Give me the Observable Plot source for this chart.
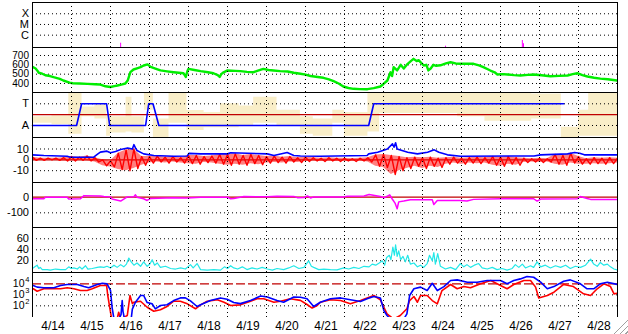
<!DOCTYPE html>
<html><head><meta charset="utf-8">
<script src="https://cdn.jsdelivr.net/npm/d3@7"></script>
<script src="https://cdn.jsdelivr.net/npm/@observablehq/plot@0.6"></script>
<style>
body{margin:0;background:#fff;}
#chart{position:relative;width:628px;height:334px;background:#fff;overflow:hidden;}
#chart > div.p{position:absolute;left:0;}
#grip{position:absolute;right:0;bottom:0;width:15px;height:15px;background:repeating-linear-gradient(135deg,transparent 0 3px,#a0a0a0 3px 4px);clip-path:polygon(100% 0,100% 100%,0 100%);}
</style></head><body><div id="chart"><div id="grip"></div></div>
<script>
// ---------- data ----------
const dayLabels = ["4/14","4/15","4/16","4/17","4/18","4/19","4/20","4/21","4/22","4/23","4/24","4/25","4/26","4/27","4/28"];
const dayBounds = [1,2,3,4,5,6,7,8,9,10,11,12,13,14];

// panel 1: flare class levels and events
const classLevels = [1,2,3];
const classLabels = ["C","M","X"];
const events = [[2.26,0.25],[10.59,-0.03],[12.56,0.5],[12.59,0.2]];

// panel 2: solar wind speed
const speedTicks = [400,500,600,700];
const speed = [[0,578],[0.08,560],[0.12,540],[0.16,515],[0.25,505],[0.33,488],[0.45,480],[0.54,468],[0.7,450],[0.79,432],[0.95,410],[1.03,403],[1.2,400],[1.41,396],[1.6,392],[1.74,389],[1.87,370],[2.0,362],[2.1,372],[2.18,379],[2.3,390],[2.38,400],[2.44,432],[2.51,521],[2.59,550],[2.7,565],[2.77,575],[2.85,593],[2.95,605],[3.03,578],[3.15,560],[3.28,540],[3.45,530],[3.62,521],[3.75,515],[3.87,510],[3.93,470],[3.97,530],[4.0,557],[4.15,545],[4.31,532],[4.5,520],[4.64,510],[4.75,490],[4.8,470],[4.84,500],[4.9,520],[5.0,540],[5.2,535],[5.33,532],[5.5,525],[5.67,521],[5.8,540],[5.92,557],[6.05,545],[6.18,539],[6.35,532],[6.54,528],[6.7,515],[6.87,504],[7.0,495],[7.13,480],[7.36,467],[7.46,461],[7.6,445],[7.72,425],[7.85,400],[7.97,368],[8.1,352],[8.23,343],[8.4,340],[8.59,339],[8.75,350],[8.92,368],[9.0,395],[9.1,432],[9.18,520],[9.22,480],[9.26,575],[9.35,540],[9.44,600],[9.52,560],[9.62,611],[9.7,640],[9.77,664],[9.85,640],[9.9,650],[10.03,593],[10.1,600],[10.15,540],[10.21,560],[10.28,600],[10.35,590],[10.46,595],[10.6,615],[10.72,628],[10.85,615],[10.97,611],[11.15,612],[11.31,611],[11.45,595],[11.56,575],[11.74,539],[11.85,520],[11.92,496],[12.05,500],[12.18,496],[12.35,490],[12.51,486],[12.7,492],[12.85,496],[13.05,488],[13.28,478],[13.5,482],[13.72,486],[13.85,500],[13.97,510],[14.1,490],[14.23,475],[14.4,462],[14.56,452],[14.75,445],[15.0,432]];

// panel 3: IMF sector (A=0, T=1) and field angle scatter envelope
const sectorTicks = [0,1];
const sectorLabels = ["A","T"];
const sectorBoundary = 0.5;
const sector = [[0,0],[1.13,0],[1.26,1],[1.9,1],[1.98,0],[2.9,0],[2.98,1],[3.09,1],[3.24,0],[8.62,0],[8.75,1],[13.62,1]];
const phiBand = [[0,0.1,0.4],[0.5,0.05,0.45],[0.93,-0.4,1.5],[1.27,0.4,0.85],[1.6,0.3,0.95],[1.9,-0.5,0.45],[2.0,-0.35,0.4],[2.4,-0.3,1.3],[2.55,-0.35,0.4],[2.87,0.7,1.5],[3.1,-0.55,0.3],[3.5,0.1,1.5],[3.96,-0.23,0.69],[4.4,-0.1,0.6],[4.82,-0.1,1.0],[5.3,0.0,0.9],[5.67,0.1,1.3],[6.27,0.0,0.7],[6.87,-0.4,0.4],[7.2,-0.5,0.3],[7.7,0.1,0.7],[8.0,-0.5,0.6],[8.6,-0.3,1.5],[8.9,0.55,1.5],[10.9,0.4,1.5],[11.6,0.2,1.5],[12.8,0.3,1.45],[13.56,-0.55,-0.08],[14.0,-0.5,0.7],[14.26,-0.5,1.5],[15.0,-0.5,1.5]];

// panel 4: Bt (blue) and Bz range (red)
const bTicks = [-10,0,10];
const bt = [[0,4.6],[0.29,4.0],[0.89,3.3],[0.97,2.4],[1.57,2.4],[1.66,5],[1.74,7.1],[1.91,8],[2.0,6.5],[2.13,7.7],[2.26,9.5],[2.44,11],[2.56,10],[2.6,14],[2.64,11],[2.68,8.6],[2.85,5.5],[3.11,4.0],[3.62,3.3],[3.97,3.6],[4.01,6],[4.31,5.5],[5.0,5.5],[5.08,6.5],[6.02,5.5],[6.19,4],[6.53,6.7],[6.7,4],[6.87,3.6],[7.37,3.3],[8.58,4],[8.62,5.5],[8.85,7],[9.1,10],[9.23,14.7],[9.27,11.6],[9.31,15.7],[9.35,10],[9.62,7],[9.87,5.5],[10.13,7],[10.3,9.2],[10.42,7],[10.64,4.6],[10.98,3.3],[12.86,3.6],[13.03,4.6],[13.38,5],[13.72,5.5],[13.9,6.7],[14.03,6],[14.15,4.6],[15,4.6]];
const bz = [[0,-0.5,2.5],[0.2,-0.5,1.5],[0.4,0,1.5],[0.6,-0.5,1.5],[0.8,-1,2],[1.0,-1,3],[1.2,-0.5,2.5],[1.4,-1,3.5],[1.6,-2,2],[1.8,-5.5,0],[2.0,-6.5,-1],[2.2,-9,6],[2.4,-10,9],[2.6,-8,10],[2.8,-5,3],[3.0,-3,3],[3.2,-2,3.5],[3.4,-3,2.5],[3.6,-2,3],[3.8,-3,2],[4.0,-3.5,4],[4.2,-4,4],[4.4,-2.5,3],[4.6,-3,3.5],[4.8,-4,5],[5.0,-5,5],[5.2,-4,5.5],[5.4,-5,4],[5.6,-3.5,5],[5.8,-4.5,4],[6.0,-3,3],[6.2,-2.5,3.5],[6.4,-3,2.5],[6.6,-2,3],[6.8,-2.5,2],[7.0,-1.5,2.5],[7.2,-1,2],[7.4,-1.5,1.5],[7.6,-1,2],[7.8,-1.5,1.5],[8.0,-1,1.5],[8.2,-1.5,1],[8.4,-1,1.5],[8.6,-2,2],[8.8,-6,4.5],[9.0,-7,5],[9.2,-13.5,4],[9.4,-10,3],[9.6,-8,2],[9.8,-6,2.5],[10.0,-8,2],[10.2,-6,2.5],[10.4,-7,1.5],[10.6,-4,2],[10.8,-3,2.5],[11.0,-4,1.5],[11.2,-3,2],[11.4,-3.5,2.5],[11.6,-3,2],[11.8,-5,3],[12.0,-6,2.5],[12.2,-4,3],[12.4,-5,2],[12.6,-2.5,1.5],[12.8,-2,1],[13.0,-2.5,1.5],[13.2,-2,1],[13.4,-4,5],[13.6,-5,4],[13.8,-3,6],[14.0,-4,3],[14.2,-4,1],[14.4,-3.5,2],[14.6,-4,1.5],[14.8,-3.5,2],[15.0,-3,1.5]];

// panel 5: magenta series
const p5Ticks = [-100,0];
const p5 = [[0,-10],[0.29,-10],[0.33,0],[0.89,0],[0.93,-12],[1.23,-10],[1.32,10],[1.74,8],[1.83,4],[2.0,2],[2.04,-12],[2.26,-25],[2.34,-12],[2.43,2],[2.6,3],[2.64,15],[2.68,0],[2.85,-10],[2.94,-21],[3.03,-8],[3.62,-4],[3.97,-5],[4.31,0],[5.0,0],[5.08,-10],[5.16,-8],[5.42,4],[6.02,3],[6.27,6],[6.7,5],[6.79,-3],[6.96,-2],[7.05,8],[7.13,-5],[7.21,2],[7.98,2],[8.07,6],[8.5,8],[8.63,17],[8.92,5],[9.01,-4],[9.16,15],[9.22,-10],[9.3,-40],[9.35,-74],[9.39,-30],[9.52,-25],[9.69,-16],[10.25,-16],[10.29,-47],[10.38,-21],[10.97,-21],[11.14,-25],[11.31,-14],[11.99,-10],[12.85,-10],[12.94,-25],[13.03,-12],[13.97,-10],[14.05,4],[14.22,-8],[14.31,-14],[15,-14]];

// panel 6: cyan series
const p6Ticks = [20,40,60];
const p6 = [[0.02,7],[0.06,9],[0.12,12],[0.16,6],[0.2,8],[0.25,4],[0.38,4],[0.46,3],[0.59,5],[0.72,4],[0.85,4],[0.93,9],[0.99,6],[1.06,7],[1.15,5],[1.21,9],[1.27,5],[1.36,11],[1.42,5],[1.53,6],[1.66,8],[1.74,9],[1.83,8],[1.91,10],[2.0,7],[2.09,12],[2.17,8],[2.26,13],[2.34,9],[2.41,14],[2.47,25],[2.53,18],[2.6,12],[2.68,16],[2.77,10],[2.85,18],[2.94,10],[3.01,14],[3.07,22],[3.13,12],[3.2,16],[3.28,8],[3.41,10],[3.54,6],[3.67,5],[3.8,7],[3.92,5],[4.05,13],[4.12,7],[4.22,15],[4.31,4],[4.48,3],[4.65,4],[4.82,3],[4.92,9],[5.0,6],[5.08,11],[5.16,7],[5.26,5],[5.38,9],[5.5,4],[5.63,7],[5.76,5],[5.89,8],[6.02,5],[6.15,3],[6.27,6],[6.44,4],[6.57,7],[6.7,11],[6.83,6],[6.96,8],[7.08,20],[7.15,10],[7.21,8],[7.34,4],[7.47,5],[7.64,4],[7.81,3.6],[7.98,7],[8.11,5],[8.24,8],[8.37,6],[8.5,10],[8.63,9],[8.71,14],[8.8,12],[8.89,16],[8.97,20],[9.03,12],[9.08,26],[9.15,30],[9.19,22],[9.24,45],[9.28,30],[9.31,49],[9.35,28],[9.39,38],[9.44,22],[9.5,28],[9.56,18],[9.62,30],[9.69,14],[9.78,16],[9.87,9],[9.95,12],[10.03,8],[10.12,15],[10.18,30],[10.25,20],[10.29,35],[10.33,14],[10.39,33],[10.46,10],[10.59,5],[10.72,8],[10.85,4],[10.97,15],[11.06,9],[11.14,13],[11.23,8],[11.33,12],[11.44,15],[11.53,7],[11.66,5],[11.79,8],[11.91,4],[12.04,6],[12.17,3],[12.3,6],[12.38,13],[12.47,8],[12.56,14],[12.64,7],[12.77,11],[12.85,8],[12.94,18],[13.03,9],[13.15,12],[13.28,7],[13.41,11],[13.54,8],[13.67,12],[13.79,6],[13.92,10],[14.05,8],[14.18,12],[14.31,23],[14.39,14],[14.48,10],[14.56,17],[14.65,12],[14.74,14],[14.82,9],[14.91,5],[15.0,3]];

// panel 7: fluxes (log10 of value)
const fluxTicks = [2,3,4];
const fluxThreshold = 4;
const fluxBlue = [[0.02,3.85],[0.12,3.7],[0.29,3.64],[0.55,3.64],[0.72,3.85],[0.89,3.94],[1.15,3.94],[1.32,3.75],[1.44,3.64],[1.66,3.94],[1.79,4.05],[1.91,4.0],[1.97,3.6],[2.0,3.4],[2.04,1.87],[2.09,0.8],[2.21,0.8],[2.27,1.2],[2.3,2.48],[2.32,1.5],[2.36,0.8],[2.53,0.8],[2.56,1.7],[2.64,2.33],[2.77,2.94],[2.85,2.94],[2.94,2.3],[3.07,2.18],[3.15,1.73],[3.28,2.03],[3.45,2.1],[3.62,2.48],[3.79,2.72],[3.92,2.72],[4.05,2.45],[4.22,1.94],[4.31,2.1],[4.56,2.48],[4.82,2.72],[4.99,2.6],[5.16,2.3],[5.33,2.2],[5.59,2.48],[5.85,2.9],[6.02,2.8],[6.27,2.48],[6.44,2.33],[6.7,2.8],[6.87,2.78],[7.04,2.64],[7.21,1.94],[7.38,2.33],[7.64,2.64],[7.9,2.72],[8.15,2.55],[8.41,2.39],[8.58,2.64],[8.75,2.85],[8.92,2.72],[9.01,1.57],[9.09,1.12],[9.18,0.8],[9.52,0.8],[9.6,1.27],[9.67,2.94],[9.78,3.55],[9.95,3.7],[10.12,3.39],[10.25,4.05],[10.38,3.39],[10.55,3.75],[10.72,4.3],[10.89,4.36],[11.15,4.15],[11.4,4.15],[11.66,4.3],[12.0,4.3],[12.17,4.0],[12.34,4.3],[12.51,4.45],[12.68,4.66],[12.85,4.6],[13.03,4.15],[13.2,3.55],[13.37,3.75],[13.62,4.24],[13.79,4.36],[14.05,4.0],[14.22,3.55],[14.39,3.55],[14.56,4.0],[14.74,4.15],[15.0,3.94]];
const fluxRed = [[0.02,3.55],[0.12,3.33],[0.29,3.55],[0.72,3.55],[0.89,3.64],[1.06,3.55],[1.23,3.39],[1.4,3.39],[1.53,3.55],[1.74,3.85],[1.9,3.85],[1.93,2.94],[1.98,1.87],[2.03,0.8],[2.17,0.8],[2.21,1.42],[2.26,0.8],[2.43,1.12],[2.5,2.94],[2.56,2.2],[2.6,2.33],[2.77,2.42],[2.94,1.87],[3.11,1.51],[3.28,1.64],[3.45,1.94],[3.62,2.42],[3.79,2.42],[3.97,2.18],[4.18,1.73],[4.31,2.09],[4.48,2.42],[4.74,2.55],[4.91,2.33],[5.08,2.03],[5.33,2.09],[5.59,2.42],[5.76,2.64],[5.93,2.64],[6.19,2.33],[6.36,2.42],[6.61,2.64],[6.87,2.5],[7.04,2.12],[7.17,1.8],[7.3,2.03],[7.38,2.33],[7.64,2.55],[7.9,2.48],[8.15,2.18],[8.41,2.48],[8.58,2.72],[8.75,2.94],[8.92,2.55],[9.01,1.87],[9.09,1.27],[9.26,0.8],[9.43,1.12],[9.6,1.73],[9.67,2.48],[9.78,2.85],[9.87,2.33],[9.95,2.94],[10.12,2.94],[10.25,2.48],[10.38,2.18],[10.5,3.39],[10.72,3.94],[10.89,3.55],[11.06,3.75],[11.23,3.64],[11.49,4.0],[11.75,4.3],[12.0,3.85],[12.17,3.55],[12.34,3.94],[12.6,4.3],[12.77,4.3],[12.9,3.7],[12.98,2.72],[13.2,2.94],[13.37,3.24],[13.62,3.94],[13.87,3.75],[14.13,3.09],[14.31,2.94],[14.48,3.55],[14.65,4.0],[14.82,3.75],[14.91,3.09],[15.0,3.15]];

// ---------- drawing ----------
const FONT = "'Liberation Sans', Arial, Helvetica, sans-serif";
const chart = document.getElementById("chart");
const PH = 45;
const dotted = {stroke: "black", strokeDasharray: "1,3"};
const darkRed = "#c00000";

// Bz readings drawn as a filled range plus an oscillating trace through each bin's high and low
const bzTrace = bz.flatMap(([d, lo, hi]) => [[d, hi], [d + 0.1, lo]]);

function labels(ticks, texts, opts = {}) {
  return Plot.text(ticks, {x: () => 0, y: d => d, text: (d, i) => texts ? texts[i] : String(d),
    textAnchor: "end", dx: -3.5, fontSize: 11, fill: "black", ...opts});
}

function panel(top, y, marks, marginBottom = 0) {
  const svg = Plot.plot({
    width: 628, height: PH + marginBottom,
    marginLeft: 32, marginRight: 11, marginTop: 0, marginBottom,
    x: {domain: [0, 15], axis: null},
    y: {...y, axis: null},
    style: {background: "transparent", fontFamily: FONT, fontSize: "11px", color: "black", overflow: "visible"},
    marks: [
      ...marks,
      Plot.ruleX(dayBounds, dotted),
      Plot.ruleY([y.domain[1]], {stroke: "black"}),
      Plot.ruleX([0, 15], {stroke: "black"})
    ]
  });
  const div = document.createElement("div");
  div.className = "p";
  div.style.top = top + "px";
  div.appendChild(svg);
  chart.appendChild(div);
}

// 1: flare classes
panel(2, {domain: [-0.15, 4.05]}, [
  Plot.ruleY(classLevels, dotted),
  labels(classLevels, classLabels),
  Plot.ruleX(events, {x: d => d[0], y1: -0.15, y2: d => d[1], stroke: "#ff00ff", strokeWidth: 1})
]);

// 2: speed
panel(47, {domain: [303.5, 785.7]}, [
  Plot.ruleY(speedTicks, dotted),
  labels(speedTicks, null, {fontSize: 10}),
  Plot.line(speed, {x: d => d[0], y: d => d[1], stroke: "#00ee00", strokeWidth: 2.4, clip: true})
]);

// 3: sector
panel(92, {domain: [-0.553, 1.52]}, [
  Plot.areaY(phiBand, {x: d => d[0], y1: d => d[1], y2: d => d[2], curve: "step-after", fill: "#f0d67c", fillOpacity: 0.42, clip: true}),
  Plot.ruleY(sectorTicks, dotted),
  labels(sectorTicks, sectorLabels),
  Plot.ruleY([sectorBoundary], {stroke: darkRed, strokeWidth: 1.3}),
  Plot.line(sector, {x: d => d[0], y: d => d[1], stroke: "#0000ff", strokeWidth: 1.6})
]);

// 4: Bt / Bz
panel(137, {domain: [-20.9, 20.6]}, [
  Plot.ruleY([-10, 10], dotted),
  labels(bTicks),
  Plot.ruleY([0], {stroke: darkRed, strokeWidth: 1.2}),
  Plot.areaY(bz, {x: d => d[0], y1: d => d[1], y2: d => d[2], fill: "#ff0000", fillOpacity: 0.5, clip: true}),
  Plot.line(bzTrace, {x: d => d[0], y: d => d[1], stroke: "#ff0000", strokeWidth: 1.4, clip: true}),
  Plot.line(bt, {x: d => d[0], y: d => d[1], stroke: "#0000ff", strokeWidth: 1.6, clip: true})
]);

// 5: magenta
panel(182, {domain: [-194, 94]}, [
  Plot.ruleY([-100], dotted),
  labels(p5Ticks),
  Plot.ruleY([0], {stroke: darkRed, strokeWidth: 1.2}),
  Plot.line(p5, {x: d => d[0], y: d => d[1], stroke: "#ff00ff", strokeWidth: 1.5, clip: true})
]);

// 6: cyan
panel(227, {domain: [-1.3, 80.5]}, [
  Plot.ruleY(p6Ticks, dotted),
  labels(p6Ticks),
  Plot.line(p6, {x: d => d[0], y: d => d[1], stroke: "#22e8e8", strokeWidth: 1.2, clip: true})
]);

// 7: fluxes (log)
panel(272, {type: "log", domain: [Math.pow(10, 0.94), Math.pow(10, 5.03)]}, [
  Plot.ruleY(fluxTicks.filter(e => e !== fluxThreshold), {y: e => 10 ** e, ...dotted}),
  Plot.ruleY([fluxThreshold], {y: e => 10 ** e, stroke: darkRed, strokeDasharray: "9,3", strokeWidth: 1.2}),
  Plot.text(fluxTicks, {x: () => 0, y: e => 10 ** e, text: () => "10", textAnchor: "end", dx: -8, fontSize: 10.5, fill: "black"}),
  Plot.text(fluxTicks, {x: () => 0, y: e => 10 ** e, text: e => String(e), textAnchor: "end", dx: -3, dy: -4, fontSize: 7.5, fill: "black"}),
  Plot.line(fluxRed, {x: d => d[0], y: d => 10 ** d[1], stroke: "#ff0000", strokeWidth: 1.6, clip: true}),
  Plot.line(fluxBlue, {x: d => d[0], y: d => 10 ** d[1], stroke: "#0000ff", strokeWidth: 1.6, clip: true}),
  Plot.text(dayLabels, {x: (d, i) => i + 0.5, frameAnchor: "bottom", text: d => d, dy: 9, dx: 1, lineAnchor: "middle", fontSize: 12, fill: "black"})
], 17);
</script></body></html>
